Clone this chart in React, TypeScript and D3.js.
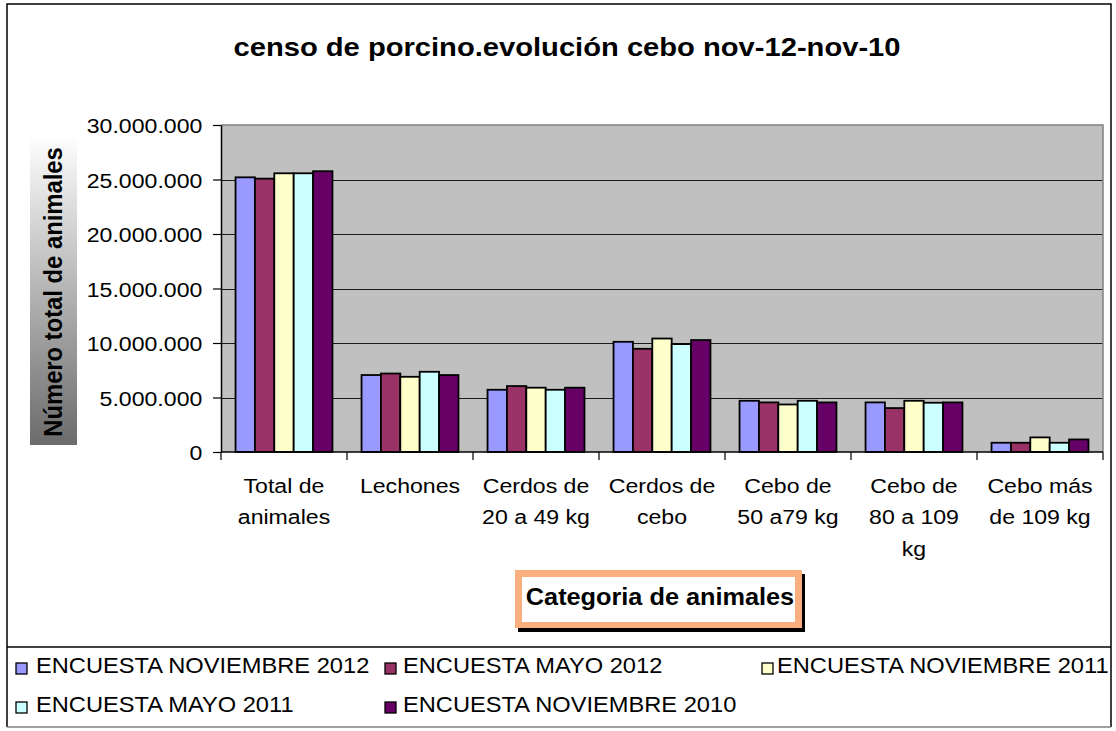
import * as d3 from 'd3';
import React, { useRef, useEffect } from 'react';

// categories (line breaks as in the original axis labels)
const categories = [
  'Total de\nanimales',
  'Lechones',
  'Cerdos de\n20 a 49 kg',
  'Cerdos de\ncebo',
  'Cebo de\n50 a79 kg',
  'Cebo de\n80 a 109\nkg',
  'Cebo más\nde 109 kg',
];

const seriesNames = [
  'ENCUESTA NOVIEMBRE 2012',
  'ENCUESTA MAYO 2012',
  'ENCUESTA NOVIEMBRE 2011',
  'ENCUESTA MAYO 2011',
  'ENCUESTA NOVIEMBRE 2010',
];
const seriesColors = ['#9999FF', '#993366', '#FFFFCC', '#CCFFFF', '#660066'];

const nov2012 = [25200000, 7060000, 5710000, 10110000, 4700000, 4550000, 850000];
const may2012 = [25080000, 7200000, 6050000, 9470000, 4550000, 4030000, 850000];
const nov2011 = [25570000, 6900000, 5900000, 10410000, 4360000, 4700000, 1340000];
const may2011 = [25570000, 7360000, 5710000, 9900000, 4700000, 4520000, 850000];
const nov2010 = [25760000, 7060000, 5900000, 10270000, 4550000, 4550000, 1150000];
const seriesValues = [nov2012, may2012, nov2011, may2011, nov2010];

const yTicks = [0, 5000000, 10000000, 15000000, 20000000, 25000000, 30000000];

const chartTitle = 'censo de porcino.evolución cebo nov-12-nov-10';
const yTitle = 'Número total de animales';
const xTitle = 'Categoria de animales';

export default function App() {
  const svgRef = useRef<SVGSVGElement>(null);
  const width = 1116;
  const height = 731;
  const plotLeft = 221;
  const plotRight = 1103;
  const plotTop = 125;
  const plotBottom = 452;
  const stretch = 1.1; // text in the original is slightly wide
  const font = "'Liberation Sans', Arial, sans-serif";

  useEffect(() => {
    if (!svgRef.current) return;
    const svg = d3.select(svgRef.current);
    svg.selectAll('*').remove();

    const locale = d3.formatLocale({ decimal: ',', thousands: '.', grouping: [3], currency: ['', '€'] });
    const fmt = locale.format(',d');

    const x0 = d3.scaleBand<string>().domain(categories).range([plotLeft, plotRight]);
    const x1 = d3.scaleBand<string>().domain(seriesNames).range([0, x0.bandwidth()]).paddingOuter(0.75);
    const y = d3.scaleLinear().domain([0, 30000000]).range([plotBottom, plotTop]);

    const defs = svg.append('defs');
    const grad = defs.append('linearGradient').attr('id', 'yTitleGrad')
      .attr('x1', 0).attr('y1', 0).attr('x2', 0).attr('y2', 1);
    grad.append('stop').attr('offset', '0%').attr('stop-color', '#ffffff');
    grad.append('stop').attr('offset', '100%').attr('stop-color', '#6b6b6b');

    // white background + outer border
    svg.append('rect').attr('width', width).attr('height', height).attr('fill', '#fff');
    svg.append('path')
      .attr('d', `M7,727 L7,4 L1111,4 L1111,727`)
      .attr('fill', 'none').attr('stroke', '#000').attr('stroke-width', 1.5);

    // title
    svg.append('text')
      .attr('transform', `translate(567,56) scale(${stretch},1)`)
      .attr('text-anchor', 'middle')
      .attr('font-family', font).attr('font-weight', 'bold').attr('font-size', 26.5)
      .text(chartTitle);

    // plot area
    svg.append('rect')
      .attr('x', plotLeft).attr('y', plotTop)
      .attr('width', plotRight - plotLeft).attr('height', plotBottom - plotTop)
      .attr('fill', '#C0C0C0');

    // gridlines
    svg.append('g').selectAll('line')
      .data(yTicks.filter((t) => t > 0 && t < 30000000))
      .join('line')
      .attr('x1', plotLeft).attr('x2', plotRight)
      .attr('y1', (d) => Math.round(y(d)) + 0.5).attr('y2', (d) => Math.round(y(d)) + 0.5)
      .attr('stroke', '#1a1a1a').attr('stroke-width', 1.2);

    // top/right border of plot
    svg.append('path')
      .attr('d', `M${plotLeft},${plotTop} L${plotRight},${plotTop} L${plotRight},${plotBottom}`)
      .attr('fill', 'none').attr('stroke', '#808080').attr('stroke-width', 1.5);

    // bars
    const groups = svg.append('g').selectAll('g')
      .data(categories)
      .join('g')
      .attr('transform', (d) => `translate(${x0(d)},0)`);
    groups.selectAll('rect')
      .data((d, i) => seriesNames.map((s, j) => ({ s, v: seriesValues[j][i], c: seriesColors[j] })))
      .join('rect')
      .attr('x', (d) => x1(d.s) as number)
      .attr('y', (d) => y(d.v))
      .attr('width', x1.bandwidth())
      .attr('height', (d) => plotBottom - y(d.v))
      .attr('fill', (d) => d.c)
      .attr('stroke', '#000')
      .attr('stroke-width', 1.8);

    // y axis
    const yAxis = svg.append('g')
      .attr('transform', `translate(${plotLeft},0)`)
      .call(d3.axisLeft(y).tickValues(yTicks).tickSize(8).tickPadding(9).tickSizeOuter(0).tickFormat((d) => fmt(d as number)));
    yAxis.select('.domain').attr('stroke', '#000').attr('stroke-width', 1.5);
    yAxis.selectAll('.tick line').attr('stroke', '#000').attr('stroke-width', 1.2);
    yAxis.selectAll('.tick text')
      .attr('font-family', font).attr('font-size', 21).attr('fill', '#000')
      .attr('dy', '0.36em')
      .attr('transform', `scale(${stretch},1)`);

    // x axis line and ticks at category boundaries
    svg.append('line')
      .attr('x1', plotLeft).attr('x2', plotRight)
      .attr('y1', plotBottom).attr('y2', plotBottom)
      .attr('stroke', '#000').attr('stroke-width', 1.5);
    const bounds = categories.map((c) => x0(c) as number).concat([plotRight]);
    svg.append('g').selectAll('line')
      .data(bounds)
      .join('line')
      .attr('x1', (d) => d).attr('x2', (d) => d)
      .attr('y1', plotBottom).attr('y2', plotBottom + 8)
      .attr('stroke', '#000').attr('stroke-width', 1.2);

    // category labels
    const catLabels = svg.append('g').selectAll('text')
      .data(categories)
      .join('text')
      .attr('transform', (d) => `translate(${(x0(d) as number) + x0.bandwidth() / 2},493) scale(${stretch},1)`)
      .attr('text-anchor', 'middle')
      .attr('font-family', font).attr('font-size', 21).attr('fill', '#000');
    catLabels.selectAll('tspan')
      .data((d) => d.split('\n'))
      .join('tspan')
      .attr('x', 0)
      .attr('y', (d, i) => i * 31.5)
      .text((d) => d);

    // y axis title with gradient box
    svg.append('rect')
      .attr('x', 30).attr('y', 135).attr('width', 47).attr('height', 310)
      .attr('fill', 'url(#yTitleGrad)');
    svg.append('text')
      .attr('transform', `translate(62,292) scale(${stretch},1) rotate(-90)`)
      .attr('text-anchor', 'middle')
      .attr('font-family', font).attr('font-weight', 'bold').attr('font-size', 23.8)
      .attr('fill', '#000')
      .text(yTitle);

    // x axis title box
    svg.append('rect').attr('x', 518).attr('y', 574).attr('width', 287).attr('height', 58).attr('fill', '#000');
    svg.append('rect').attr('x', 515).attr('y', 570).attr('width', 287).attr('height', 58).attr('fill', '#FBAF7E');
    svg.append('rect').attr('x', 522).attr('y', 577).attr('width', 273).attr('height', 45).attr('fill', '#fff');
    svg.append('text')
      .attr('transform', `translate(660,605) scale(${stretch},1)`)
      .attr('text-anchor', 'middle')
      .attr('font-family', font).attr('font-weight', 'bold').attr('font-size', 23)
      .text(xTitle);

    // legend
    svg.append('line').attr('x1', 7).attr('x2', 1111).attr('y1', 647).attr('y2', 647)
      .attr('stroke', '#000').attr('stroke-width', 1.5);
    svg.append('line').attr('x1', 7).attr('x2', 1111).attr('y1', 727).attr('y2', 727)
      .attr('stroke', '#808080').attr('stroke-width', 1.5);
    const legendCols = [{ m: 16, t: 36 }, { m: 385, t: 403 }, { m: 762, t: 777 }];
    const legendRows = [663, 702];
    const items = svg.append('g').selectAll('g')
      .data(seriesNames)
      .join('g')
      .attr('transform', (d, i) => {
        const col = legendCols[i % 3];
        const row = legendRows[Math.floor(i / 3)];
        return `translate(${col.m},${row})`;
      });
    items.append('rect')
      .attr('width', 11).attr('height', 11)
      .attr('fill', (d, i) => seriesColors[i])
      .attr('stroke', '#000').attr('stroke-width', 1.3);
    items.append('text')
      .attr('transform', (d, i) => `translate(${legendCols[i % 3].t - legendCols[i % 3].m},10) scale(${stretch},1)`)
      .attr('font-family', font).attr('font-size', 21.5).attr('fill', '#000')
      .text((d) => d);
  }, []);

  return (
    <svg ref={svgRef} width={width} height={height} style={{ position: 'absolute', left: 0, top: 0 }} />
  );
}
